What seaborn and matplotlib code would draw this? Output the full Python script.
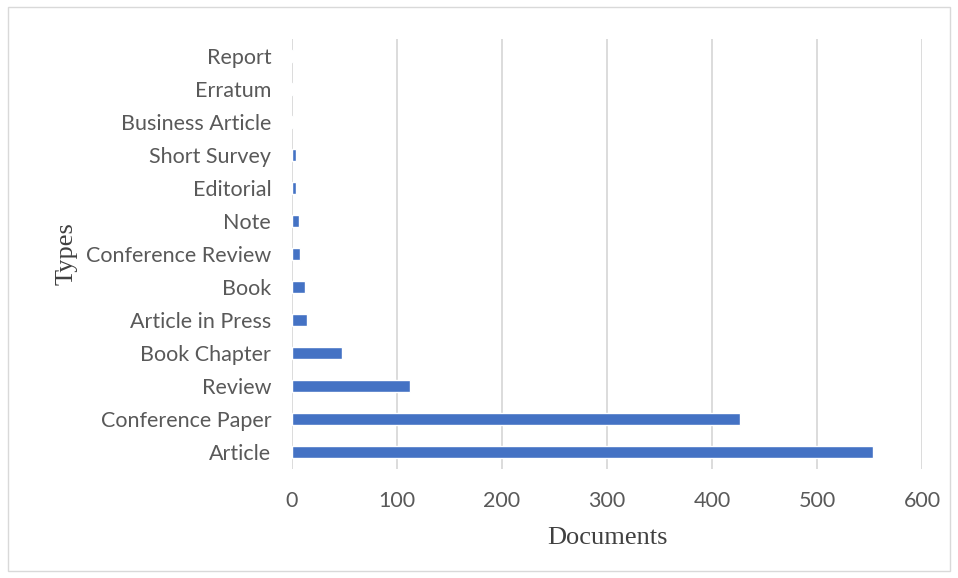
import pandas as pd
import seaborn as sns
import matplotlib.pyplot as plt
from matplotlib.patches import Rectangle

# data (top to bottom)
types = ['Report', 'Erratum', 'Business Article', 'Short Survey', 'Editorial', 'Note',
         'Conference Review', 'Book', 'Article in Press', 'Book Chapter', 'Review',
         'Conference Paper', 'Article']
documents = [1, 1, 1, 4, 4, 7, 8, 12, 14, 48, 112, 427, 553]
x_ticks = [0, 100, 200, 300, 400, 500, 600]

df = pd.DataFrame({'Types': types, 'Documents': documents})

sns.set_style('white')
plt.rcParams['font.family'] = ['Lato', 'DejaVu Sans']

fig = plt.figure(figsize=(9.58, 5.78), dpi=100)
ax = fig.add_axes([0.3048, 0.1894, 0.6576, 0.7423])

sns.barplot(data=df, x='Documents', y='Types', order=types, color='#4472c4',
            width=0.38, saturation=1, ax=ax, zorder=3)

ax.set_xlim(0, 600)
ax.set_xticks(x_ticks)
ax.grid(axis='x', color='#d9d9d9', linewidth=1.3, zorder=0)
ax.set_axisbelow(True)
for s in ax.spines.values():
    s.set_visible(False)
ax.tick_params(axis='both', length=0, labelsize=15.5, colors='#595959')
ax.tick_params(axis='y', pad=15)
ax.tick_params(axis='x', pad=16)

ax.set_xlabel('Documents', family='Liberation Serif', fontsize=19, color='#404040', labelpad=12)
ax.set_ylabel('Types', family='Liberation Serif', fontsize=19, color='#404040', labelpad=6)

fig.patches.append(Rectangle((0.008, 0.012), 0.984, 0.976, transform=fig.transFigure,
                             fill=False, edgecolor='#d9d9d9', linewidth=1))

plt.savefig('out.png', dpi=100)
